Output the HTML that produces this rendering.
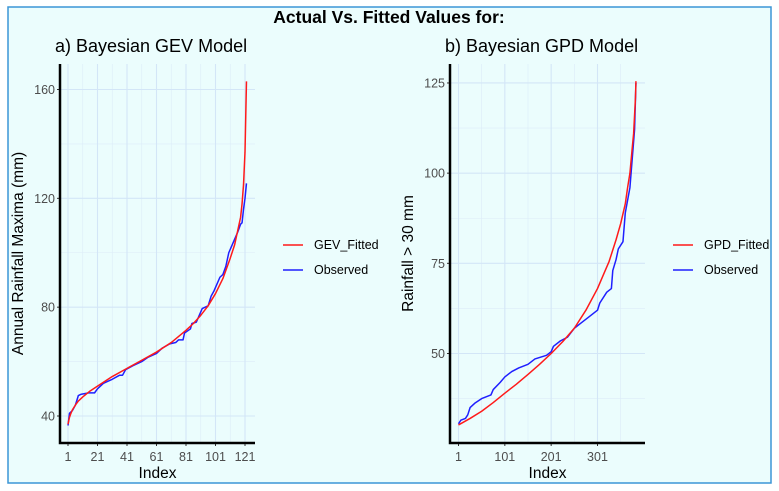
<!DOCTYPE html>
<html><head><meta charset="utf-8"><style>
body{margin:0;background:#fff;}
svg{display:block;font-family:"Liberation Sans",Arial,sans-serif;}
</style></head><body>
<svg id="c" width="779" height="491">
<rect x="0" y="0" width="779" height="491" fill="#ffffff"/>
<rect x="8" y="7" width="763" height="476" fill="#ebfdfd" stroke="#3b95d6" stroke-width="1.5"/>
<text x="389" y="23" text-anchor="middle" font-size="17.5" font-weight="bold" fill="#000">Actual Vs. Fitted Values for:</text>
<g id="gl"></g><g id="gr"></g>
</svg>
<script>
const gevIdx=[1,2,3,4,6,8,11,16,21,31,41,51,61,71,81,86,91,96,101,106,111,114,116,118,119,120,121,122];
const gevFit=[37,39.5,41,42.3,44,45.5,47,49.2,51,54.5,57.5,60.5,63.5,67,71.5,74,77,80.5,85,90.5,98,103,108,113,118,125,137,163];
const gevObsIdx=[1,2,4,6,8,10,15,19,21,25,31,36,38,40,45,51,55,61,65,70,74,76,79,80,84,85,88,90,92,96,98,100,102,104,106,108,110,112,116,118,119,120,121,122];
const gevObs=[36.5,41,42,44,47.5,48,48.5,48.5,50,52,53.5,55,55,57,58.5,60,61.5,63,65,66.5,67,68,68,70.5,72,74,74.5,77,79.5,80.5,84,86,88.5,91,92,95,100,102.5,107.5,110.5,111,116,120,125.5];
const gpdIdx=[1,26,51,76,101,126,151,176,201,226,251,276,301,316,326,341,351,361,366,371,376,379,381,383,384];
const gpdFit=[30.2,32,34,36.4,39,41.5,44.2,47,50,53.3,57,62,68,72.5,75.5,81.5,86,91.5,96,100,107,111,116,121,125.5];
const gpdObsIdx=[1,6,16,21,26,36,51,71,76,91,101,116,131,151,166,191,201,206,221,236,251,266,281,301,306,321,331,334,341,346,356,361,371,381,384];
const gpdObs=[30.5,31.5,32,33,35,36.2,37.5,38.5,40,42,43.5,45,46,47,48.5,49.5,50.5,52,53.5,54.5,57,58.5,60,62,64,67,68,73,76,79,81,89,96,112,125];
const gevXTicks=[1,21,41,61,81,101,121];
const gevYTicks=[40,80,120,160];
const gpdXTicks=[1,101,201,301];
const gpdYTicks=[50,75,100,125];
const NS="http://www.w3.org/2000/svg";
function mk(p,t,a){const e=document.createElementNS(NS,t);for(const k in a)e.setAttribute(k,a[k]);p.appendChild(e);return e;}
function panel(g,o){
  const L=o.left,R=o.right,T=64,B=443;
  const sx=v=>o.x0+(v-o.i0)*o.kx, sy=v=>o.y0-(v-o.v0)*o.ky;
  o.xminor.forEach(v=>{const l=mk(g,'line',{x1:sx(v),x2:sx(v),y1:T,y2:B,stroke:'#dcecf8','stroke-width':0.6});});
  o.yminor.forEach(v=>{const l=mk(g,'line',{x1:L,x2:R,y1:sy(v),y2:sy(v),stroke:'#dcecf8','stroke-width':0.6});});
  o.xt.forEach(v=>{const l=mk(g,'line',{x1:sx(v),x2:sx(v),y1:T,y2:B,stroke:'#d3e6f7','stroke-width':1.1});
    const t=mk(g,'text',{x:sx(v),y:B+18,'text-anchor':'middle','font-size':12.5,fill:'#4d4d4d'});t.textContent=v;
    mk(g,'line',{x1:sx(v),x2:sx(v),y1:B,y2:B+3,stroke:'#333'});});
  o.yt.forEach(v=>{const l=mk(g,'line',{x1:L,x2:R,y1:sy(v),y2:sy(v),stroke:'#d3e6f7','stroke-width':1.1});
    const t=mk(g,'text',{x:L-5,y:sy(v)+4.5,'text-anchor':'end','font-size':12.5,fill:'#4d4d4d'});t.textContent=v;
    mk(g,'line',{x1:L-3,x2:L,y1:sy(v),y2:sy(v),stroke:'#333'});});
  const line=(xs,ys,c,n)=>{const p=mk(g,'polyline',{points:xs.map((x,i)=>sx(x)+','+sy(ys[i])).join(' '),fill:'none',stroke:c,'stroke-width':1.5,'stroke-linejoin':'round'});};
  line(o.ox,o.oy,'#1f1fff','observed-line');
  line(o.fx,o.fy,'#ff1a1a','fitted-line');
  const ax=mk(g,'polyline',{points:`${L},${T} ${L},${B} ${R},${B}`,fill:'none',stroke:'#000','stroke-width':2.5});
  let t=mk(g,'text',{x:L-5,y:52,'font-size':18,fill:'#000'});t.textContent=o.sub;
  t=mk(g,'text',{x:(L+R)/2,y:478,'text-anchor':'middle','font-size':15.5,fill:'#000'});t.textContent='Index';
  t=mk(g,'text',{x:0,y:0,'text-anchor':'middle','font-size':15.5,fill:'#000',transform:`translate(${L-37},${(T+B)/2}) rotate(-90)`});t.textContent=o.ylab;
  const lx=L+223;
  [[o.fname,'#ff1a1a',245],['Observed','#1f1fff',270]].forEach(e=>{
    const lg=mk(g,'g',{});
    mk(lg,'line',{x1:lx,x2:lx+20,y1:e[2],y2:e[2],stroke:e[1],'stroke-width':1.5});
    const tt=mk(lg,'text',{x:lx+31,y:e[2]+4,'font-size':12.5,fill:'#000'});tt.textContent=e[0];});
}
panel(document.getElementById('gl'),{left:60,right:255,x0:68,i0:1,kx:1.475,y0:416,v0:40,ky:2.7208,
  xt:gevXTicks,yt:gevYTicks,xminor:[11,31,51,71,91,111],yminor:[60,100,140],
  fx:gevIdx,fy:gevFit,ox:gevObsIdx,oy:gevObs,sub:'a) Bayesian GEV Model',ylab:'Annual Rainfall Maxima (mm)',fname:'GEV_Fitted'});
panel(document.getElementById('gr'),{left:450,right:645,x0:458.5,i0:1,kx:0.4633,y0:353.5,v0:50,ky:3.607,
  xt:gpdXTicks,yt:gpdYTicks,xminor:[51,151,251,351],yminor:[37.5,62.5,87.5,112.5],
  fx:gpdIdx,fy:gpdFit,ox:gpdObsIdx,oy:gpdObs,sub:'b) Bayesian GPD Model',ylab:'Rainfall > 30 mm',fname:'GPD_Fitted'});
</script>
</body></html>
